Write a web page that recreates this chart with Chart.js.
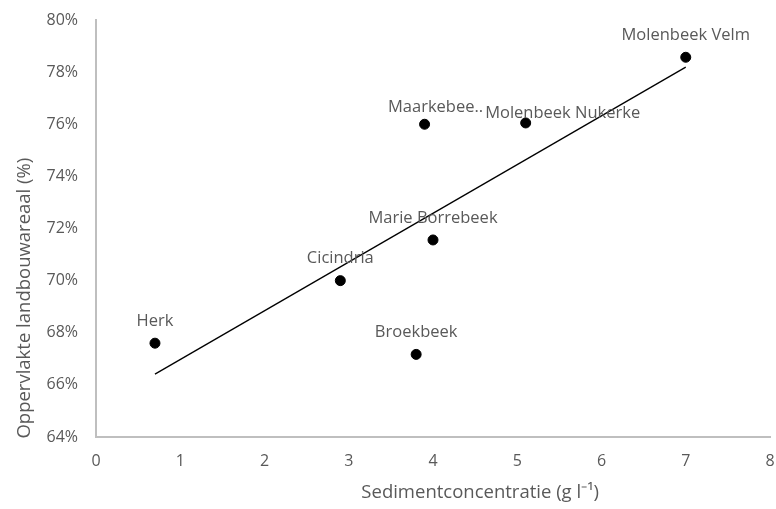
<!DOCTYPE html>
<html>
<head>
<meta charset="utf-8">
<script src="https://cdn.jsdelivr.net/npm/chart.js@4.4.1/dist/chart.umd.min.js"></script>
<style>
  html, body { margin: 0; padding: 0; background: #fff; }
  #wrap { width: 776px; height: 509px; position: relative; }
</style>
</head>
<body>
<div id="wrap"><canvas id="chart" width="776" height="509"></canvas></div>
<script>
// data
const siteNames = ['Herk', 'Cicindria', 'Broekbeek', 'Maarkebee..', 'Marie Borrebeek', 'Molenbeek Nukerke', 'Molenbeek Velm'];
const sediment = [0.7, 2.9, 3.8, 3.9, 4.0, 5.1, 7.0];           // g l-1
const agriShare = [67.6, 70.0, 67.17, 76.0, 71.56, 76.05, 78.57]; // %
const xTicks = [0, 1, 2, 3, 4, 5, 6, 7, 8];
const yTicks = [64, 66, 68, 70, 72, 74, 76, 78, 80];

const textGrey = '#595959';
const axisGrey = '#bfbfbf';
const font = 'Open Sans';

// linear trendline (least squares), drawn between min and max x
function trend(xs, ys) {
    const n = xs.length;
    const mx = xs.reduce((a, b) => a + b, 0) / n;
    const my = ys.reduce((a, b) => a + b, 0) / n;
    let sxx = 0, sxy = 0;
    for (let i = 0; i < n; i++) {
        sxx += (xs[i] - mx) * (xs[i] - mx);
        sxy += (xs[i] - mx) * (ys[i] - my);
    }
    const slope = sxy / sxx;
    const x0 = Math.min(...xs), x1 = Math.max(...xs);
    return [
        { x: x0, y: my + slope * (x0 - mx) },
        { x: x1, y: my + slope * (x1 - mx) }
    ];
}

// label nudges (px) where the labels were moved by hand
const labelShift = {
    'Maarkebee..': { dx: 11, dy: -17 },
    'Molenbeek Nukerke': { dx: 37, dy: -10 }
};

const pointLabels = {
    id: 'pointLabels',
    afterDatasetsDraw(chart) {
        const meta = chart.getDatasetMeta(0);
        const ctx = chart.ctx;
        ctx.save();
        ctx.font = '16.5px "' + font + '"';
        ctx.fillStyle = textGrey;
        ctx.textAlign = 'center';
        ctx.textBaseline = 'middle';
        meta.data.forEach((pt, i) => {
            const name = siteNames[i];
            const s = labelShift[name] || { dx: 0, dy: -22 };
            ctx.fillText(name, pt.x + s.dx, pt.y + s.dy);
        });
        ctx.restore();
    }
};

// axis titles sit off-centre in the reference, so place them by hand
const axisTitles = {
    id: 'axisTitles',
    afterDraw(chart) {
        const ctx = chart.ctx;
        const a = chart.chartArea;
        ctx.save();
        ctx.font = '18.5px "' + font + '"';
        ctx.fillStyle = textGrey;
        ctx.textAlign = 'center';
        ctx.textBaseline = 'middle';
        ctx.fillText('Sedimentconcentratie (g l\u207B\u00B9)', a.left + (a.right - a.left) * 0.57, 493);
        ctx.translate(25, a.top + (a.bottom - a.top) * 0.667);
        ctx.rotate(-Math.PI / 2);
        ctx.fillText('Oppervlakte landbouwareaal (%)', 0, 0);
        ctx.restore();
    }
};

new Chart(document.getElementById('chart'), {
    type: 'scatter',
    data: {
        datasets: [{
            label: 'Locaties',
            data: sediment.map((x, i) => ({ x: x, y: agriShare[i] })),
            backgroundColor: '#000',
            borderColor: '#000',
            pointRadius: 5,
            pointHoverRadius: 5
        }, {
            label: 'Trendlijn',
            type: 'line',
            data: trend(sediment, agriShare),
            borderColor: '#000',
            borderWidth: 1.3,
            pointRadius: 0,
            fill: false
        }]
    },
    options: {
        responsive: false,
        animation: false,
        layout: { padding: { top: 20, right: 0, left: 0, bottom: 0 } },
        plugins: {
            legend: { display: false },
            tooltip: { enabled: false }
        },
        scales: {
            x: {
                type: 'linear',
                min: 0,
                max: 8,
                afterBuildTicks: s => { s.ticks = xTicks.map(v => ({ value: v })); },
                afterFit: s => { s.height = 72; s.paddingLeft = 0; s.paddingRight = 0; },
                grid: { display: false, drawTicks: false },
                border: { display: true, color: axisGrey, width: 2 },
                ticks: { color: textGrey, font: { family: font, size: 16 }, padding: 15 }
            },
            y: {
                type: 'linear',
                min: 64,
                max: 80,
                afterBuildTicks: s => { s.ticks = yTicks.map(v => ({ value: v })); },
                afterFit: s => { s.width = 96; s.paddingTop = 0; s.paddingBottom = 0; },
                grid: { display: false, drawTicks: false },
                border: { display: true, color: axisGrey, width: 2 },
                ticks: { color: textGrey, font: { family: font, size: 16 }, padding: 18, callback: v => v + '%' }
            }
        }
    },
    plugins: [pointLabels, axisTitles]
});
</script>
</body>
</html>
